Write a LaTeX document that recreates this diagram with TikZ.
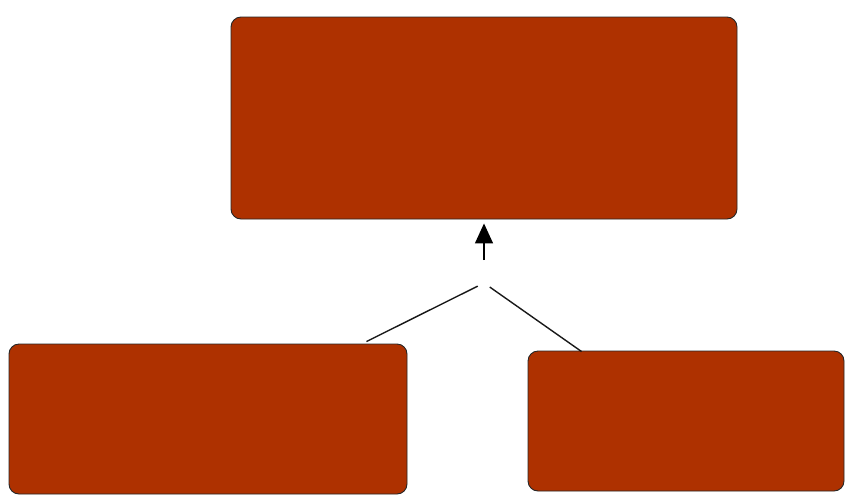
\documentclass[tikz,border=0pt]{standalone}
\usetikzlibrary{arrows.meta,positioning}
\definecolor{boxred}{HTML}{AE3100}
\tikzset{
  redbox/.style={draw=black!85,line width=0.9pt,fill=boxred,rounded corners=10pt,inner sep=0pt},
  link/.style={draw=black!90,line width=1.4pt},
}
\begin{document}
\begin{tikzpicture}[x=1pt,y=-1pt]
\useasboundingbox (0,0) rectangle (848,496);
\node[redbox,minimum width=506pt,minimum height=202pt] (top) at (484,118) {};
\node[redbox,minimum width=398pt,minimum height=150pt] (left) at (208,419) {};
\node[redbox,minimum width=316pt,minimum height=140pt] (right) at (686,421) {};
\coordinate (join) at (484,283);
\coordinate (lefttip) at ([xshift=-41pt,yshift=2pt]left.north east);
\coordinate (righttip) at ([xshift=54pt,yshift=-1pt]right.north west);
\draw[link,draw=black,-{Triangle[length=20pt,width=18pt]},shorten <=23pt,shorten >=4pt] (join) -- (top.south);
\draw[link,shorten <=7pt] (join) -- (lefttip);
\draw[link,shorten <=7pt] (join) -- (righttip);
\end{tikzpicture}
\end{document}
